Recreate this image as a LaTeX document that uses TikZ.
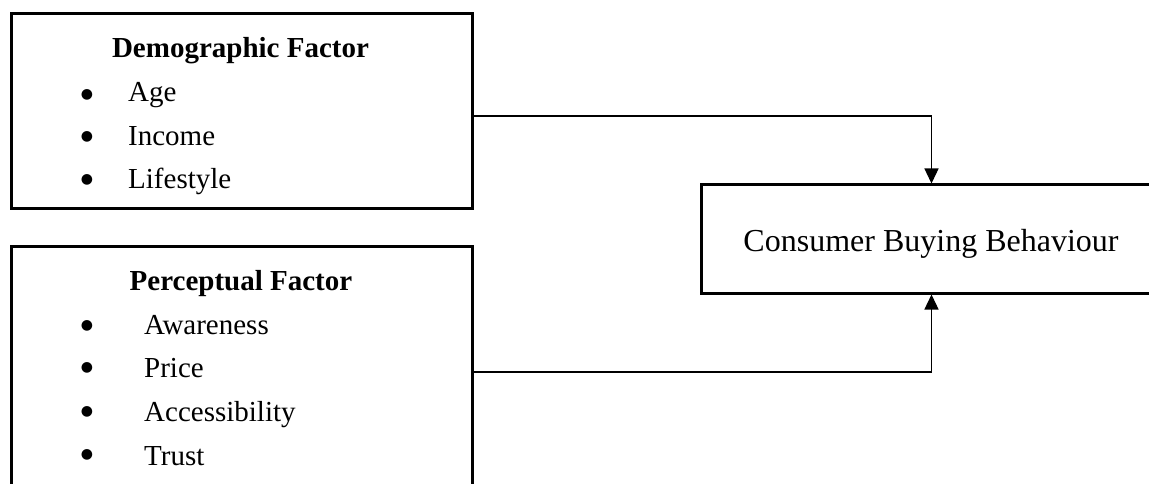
\documentclass[tikz,border=0pt]{standalone}
\usepackage{fontspec}
\setmainfont{Liberation Serif}
\newfontfamily\dejavu{DejaVu Sans}
\usetikzlibrary{arrows.meta}
\begin{document}
\begin{tikzpicture}[x=1pt,y=-1pt,
  box/.style={draw,line width=3pt,rectangle,inner sep=0pt,minimum width=461pt},
  head/.style={font=\fontsize{29}{34}\selectfont\bfseries,anchor=base,inner sep=0pt},
  item/.style={font=\fontsize{29}{34}\selectfont,anchor=base west,inner sep=0pt},
  bul/.style={font=\dejavu\fontsize{14}{16}\selectfont,anchor=center,inner sep=0pt},
  conn/.style={line width=1.3pt,-{Triangle[length=15pt,width=14pt]}}]
\useasboundingbox (0,0) rectangle (1149,484);
\clip (0,0) rectangle (1149,484);
\fill[white] (0,0) rectangle (1149,484);
% boxes
\node[box,minimum height=194pt] (b1) at (241.5,111) {};
\node[box,minimum height=280pt] (b2) at (241.5,386) {};
\node[box,minimum height=108pt] (b3) at (931.5,239) {};
% box 1 text
\node[head] (h1) at (240.5,58) {Demographic Factor};
\node[bul] (d1) at (87,95) {●};
\node[bul] (d2) at (87,137) {●};
\node[bul] (d3) at (87,180) {●};
\node[item] (t1) at (128,102) {Age};
\node[item] (t2) at (128,146) {Income};
\node[item] (t3) at (128,189) {Lifestyle};
% box 2 text
\node[head] (h2) at (241,290) {Perceptual Factor};
\node[bul] (e1) at (87,326) {●};
\node[bul] (e2) at (87,368) {●};
\node[bul] (e3) at (87,412) {●};
\node[bul] (e4) at (87,455) {●};
\node[item] (s1) at (144,334) {Awareness};
\node[item] (s2) at (144,377) {Price};
\node[item] (s3) at (144,421) {Accessibility};
\node[item] (s4) at (144,465) {Trust};
% box 3 text
\node[font=\fontsize{32}{38}\selectfont,anchor=base,inner sep=0pt] (c) at (931,251) {Consumer Buying Behaviour};
% connectors
\coordinate (j1) at (931,116);
\coordinate (j2) at (931,372);
\draw[conn] (b1.east |- j1) -| (b3.north);
\draw[conn] (b2.east |- j2) -| (b3.south);
\end{tikzpicture}
\end{document}
